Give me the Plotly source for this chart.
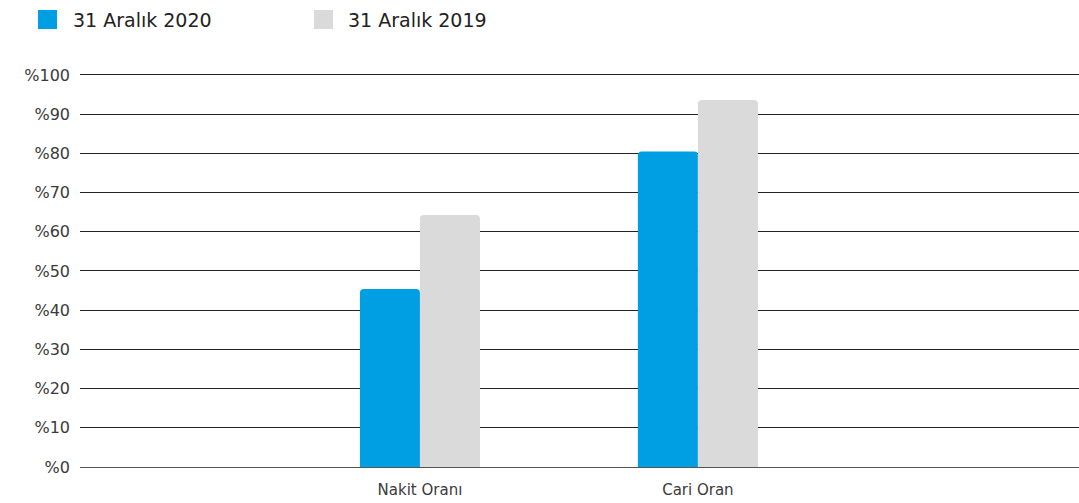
import plotly.graph_objects as go

categories = ["Nakit Oranı", "Cari Oran"]
series_names = ["31 Aralık 2020", "31 Aralık 2019"]
values_2020 = [45.4, 80.5]
values_2019 = [64.3, 93.6]
y_ticks = [0, 10, 20, 30, 40, 50, 60, 70, 80, 90, 100]
y_tick_labels = ["%" + str(v) for v in y_ticks]
colors = ["#009FE3", "#DADADA"]

W, H = 1079, 503
ML, MR, MT, MB = 80, 0, 73, 36
PW, PH = W - ML - MR, H - MT - MB
YMAX = 100.5

FONT = "DejaVu Sans"

fig = go.Figure()
for name, vals, col in zip(series_names, [values_2020, values_2019], colors):
    fig.add_trace(go.Bar(x=categories, y=vals, name=name, marker_color=col,
                         marker_line_width=0, showlegend=False, hoverinfo="skip"))

def px_x(p):
    return (p - ML) / PW

def px_y(p):
    return (H - MB - p) / PH

# manual legend
legend_items = [(38, 73), (314, 348)]
for (sx, tx), name, col in zip(legend_items, series_names, colors):
    fig.add_shape(type="rect", xref="paper", yref="paper",
                  x0=px_x(sx), x1=px_x(sx + 19), y0=px_y(29), y1=px_y(10),
                  fillcolor=col, line_width=0)
    fig.add_annotation(xref="paper", yref="paper", x=px_x(tx), y=px_y(20),
                       text=name, showarrow=False, xanchor="left", yanchor="middle",
                       xshift=-2,
                       font=dict(family=FONT, size=19, color="#222222"))

fig.update_layout(
    width=W, height=H,
    margin=dict(l=ML, r=MR, t=MT, b=MB),
    plot_bgcolor="white", paper_bgcolor="white",
    barmode="group", bargap=0.568, bargroupgap=0,
    barcornerradius=4,
    font=dict(family=FONT, size=15, color="#3a3a3a"),
)
fig.update_xaxes(range=[-1.223, 2.371], showgrid=False, zeroline=False,
                 showline=False, ticks="outside", ticklen=9, tickcolor="rgba(0,0,0,0)",
                 tickfont=dict(family=FONT, size=15, color="#3a3a3a"))
fig.update_yaxes(range=[0, YMAX], tickvals=y_ticks, ticktext=y_tick_labels,
                 showgrid=True, gridcolor="#222222", gridwidth=1,
                 zeroline=True, zerolinecolor="#555555", zerolinewidth=1,
                 showline=False, ticks="", ticklabelstandoff=9,
                 tickfont=dict(family=FONT, size=16, color="#3a3a3a"))

fig.write_html("out.html", config={"displayModeBar": False, "staticPlot": True},
               post_script="document.body.style.margin='0px';document.body.style.overflow='hidden';")
